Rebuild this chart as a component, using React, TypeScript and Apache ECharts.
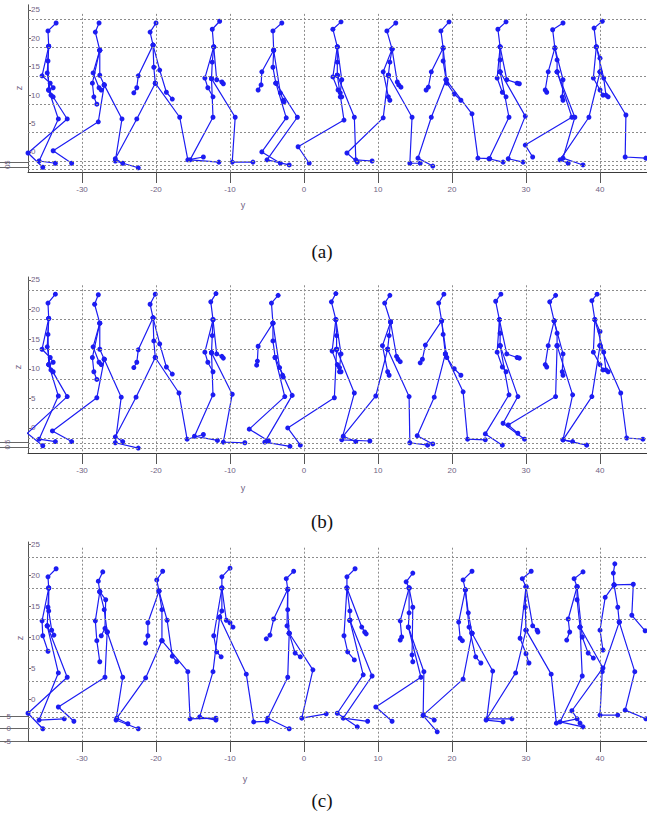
import React, { useEffect, useRef } from "react";
import * as echarts from "echarts";

// ---- axis ticks ----
const X_TICKS = [-30, -20, -10, 0, 10, 20, 30, 40];
const Z_TICKS = [0, 5, 10, 15, 20, 25];
const STUB_TICKS = [5, 0, -5];
const PANEL_LABELS = ["(a)", "(b)", "(c)"];

// extra "floor" grid lines of each panel (z values)
const FLOOR_A = [-0.7, -1.4];
const FLOOR_B = [-0.85, -1.7];
const FLOOR_C = [-0.8, -2.6];

// joint order:
// 0 head, 1 neck, 2 chest, 3 waist, 4 pelvis,
// 5 elbowA, 6 wristA, 7 handA, 8 elbowB, 9 wristB, 10 handB,
// 11 kneeA, 12 ankleA, 13 toeA, 14 kneeB, 15 ankleB, 16 toeB
const CHAINS = [
  [0, 1, 2, 3, 4],
  [2, 5, 6, 7],
  [2, 8, 9, 10],
  [4, 11, 12, 13],
  [4, 14, 15, 16],
];

// panel (a): [y, z] of each joint of each pose
const FIGS_A = [
  [[-33.5, 24.3], [-34.6, 22.9], [-34.5, 20.2], [-34.6, 17.6], [-34.5, 12.5], [-35.4, 15.0], [-34.3, 13.7], [-33.9, 12.9], [-34.7, 15.5], [-34.2, 11.6], [-33.9, 11.3], [-33.2, 7.4], [-35.8, 0], [-33.6, -0.4], [-32.0, 7.4], [-37.3, 1.4], [-35.3, -1.1]],
  [[-27.7, 24.3], [-28.2, 22.7], [-27.6, 19.5], [-27.6, 15.1], [-27.0, 13.4], [-28.6, 13.7], [-28.4, 11.3], [-28.0, 10.0], [-28.5, 15.5], [-27.7, 12.9], [-27.4, 12.5], [-27.8, 6.9], [-33.9, 1.8], [-31.4, -0.4], [-24.6, 7.4], [-25.5, 0], [-22.4, -1.2]],
  [[-20.0, 24.3], [-20.8, 22.7], [-20.4, 20.4], [-20.3, 16.5], [-20.1, 13.7], [-22.4, 15.0], [-22.6, 12.9], [-23.0, 12.0], [-19.5, 16.0], [-18.6, 12.1], [-17.8, 10.9], [-22.6, 7.4], [-25.5, 0.4], [-24.5, -0.4], [-16.8, 7.7], [-15.7, 0.2], [-13.6, 0.7]],
  [[-11.4, 24.6], [-12.4, 23.2], [-12.2, 20.1], [-12.4, 17.4], [-12.5, 14.5], [-13.4, 14.6], [-13.0, 12.9], [-12.3, 11.3], [-11.8, 14.3], [-11.1, 13.9], [-10.9, 13.6], [-12.3, 7.7], [-15.4, 0.2], [-11.5, -0.2], [-9.3, 7.7], [-9.7, -0.2], [-6.9, -0.2]],
  [[-3.0, 24.3], [-4.2, 22.9], [-4.1, 19.5], [-4.2, 16.5], [-3.8, 13.7], [-5.7, 15.7], [-5.8, 13.4], [-6.2, 12.5], [-3.2, 12.0], [-2.8, 10.7], [-2.7, 10.4], [-2.4, 7.6], [-5.7, 1.6], [-3.2, -0.4], [-0.9, 7.7], [-5.0, 0.2], [-2.0, -0.7]],
  [[5.0, 24.5], [3.9, 23.2], [4.5, 20.1], [4.5, 17.4], [4.5, 15.1], [3.9, 14.8], [4.6, 12.5], [4.9, 11.3], [5.1, 14.3], [4.9, 12.0], [5.1, 11.3], [5.4, 7.2], [-0.8, 2.5], [0.7, -0.4], [6.8, 7.7], [7.0, 0.2], [9.2, 0]],
  [[12.4, 24.3], [11.2, 22.9], [11.9, 19.7], [11.6, 17.4], [11.4, 15.1], [10.7, 15.7], [11.4, 11.3], [11.6, 10.7], [12.6, 13.9], [12.8, 13.4], [13.1, 13.0], [10.7, 7.6], [5.8, 1.4], [7.2, -0.2], [14.6, 7.7], [14.3, -0.4], [15.7, -0.4]],
  [[19.6, 24.5], [18.5, 22.9], [18.8, 19.9], [18.8, 17.6], [19.2, 14.3], [17.2, 15.7], [16.8, 13.0], [16.5, 12.5], [19.3, 13.7], [20.3, 11.8], [21.2, 10.7], [17.2, 7.7], [15.4, 0.5], [17.4, -0.9], [22.7, 8.3], [23.5, 0.5], [25.1, 0.4]],
  [[27.3, 24.5], [26.2, 23.2], [26.5, 20.1], [26.5, 17.8], [26.5, 15.7], [26.1, 14.6], [26.8, 12.1], [27.3, 11.3], [27.4, 14.3], [28.8, 13.7], [29.1, 13.6], [27.7, 7.7], [25.0, 0.4], [26.9, -0.2], [29.9, 7.9], [27.6, 0.4], [29.6, -0.2]],
  [[35.0, 24.3], [33.6, 23.1], [33.9, 19.9], [34.2, 17.8], [34.2, 15.7], [33.0, 15.7], [32.6, 12.5], [32.8, 12.1], [35.0, 14.3], [34.9, 11.3], [35.0, 10.7], [36.2, 7.7], [29.9, 2.8], [30.9, 0.7], [36.6, 7.7], [35.0, 0.5], [37.7, -0.7]],
  [[40.3, 24.6], [39.2, 23.4], [39.5, 20.1], [40.0, 18.1], [40.0, 15.7], [39.1, 14.6], [40.0, 12.5], [40.4, 11.6], [40.5, 14.6], [40.8, 11.6], [41.1, 11.3], [38.5, 7.7], [34.6, 0.2], [35.7, -0.4], [43.5, 8.1], [43.4, 0.7], [46.2, 0.5]],
];

// panel (b)
const FIGS_B = [
  [[-33.6, 24.3], [-34.6, 22.8], [-34.5, 20.2], [-34.6, 17.5], [-34.5, 12.4], [-35.4, 15.0], [-34.3, 13.6], [-33.9, 12.8], [-34.7, 15.4], [-34.2, 11.5], [-33.9, 11.2], [-33.2, 7.1], [-35.8, -0.2], [-33.6, -0.6], [-32.0, 7.0], [-37.4, 0.8], [-35.3, -1.3]],
  [[-27.8, 24.2], [-28.3, 22.6], [-27.6, 19.4], [-27.6, 15.0], [-27.0, 13.3], [-28.6, 13.6], [-28.4, 11.2], [-28.0, 9.9], [-28.5, 15.4], [-27.7, 12.8], [-27.4, 12.4], [-28.0, 6.8], [-34.0, 1.2], [-31.4, -0.6], [-24.7, 6.9], [-25.5, -0.8], [-22.4, -1.7]],
  [[-20.1, 24.3], [-20.8, 22.6], [-20.4, 20.3], [-20.3, 16.4], [-20.1, 13.6], [-22.4, 14.9], [-22.6, 12.8], [-23.0, 11.9], [-19.5, 15.9], [-18.6, 12.0], [-17.8, 10.8], [-22.7, 6.9], [-25.5, 0.2], [-24.5, -0.6], [-16.9, 7.6], [-15.8, -0.2], [-13.6, 0.6]],
  [[-11.9, 24.4], [-12.6, 23.0], [-12.3, 20.0], [-12.4, 17.3], [-12.5, 14.4], [-13.4, 14.5], [-13.0, 12.8], [-12.3, 11.2], [-11.8, 14.2], [-11.1, 13.8], [-10.9, 13.5], [-12.3, 7.3], [-14.8, 0.3], [-11.7, -0.4], [-9.7, 7.4], [-10.9, -0.7], [-8.0, -0.8]],
  [[-3.5, 24.1], [-4.4, 22.8], [-4.2, 19.4], [-4.2, 16.4], [-3.9, 13.6], [-6.2, 15.5], [-6.3, 13.0], [-6.4, 12.3], [-3.3, 11.9], [-2.9, 10.6], [-2.8, 10.3], [-2.6, 7.0], [-7.4, 1.5], [-4.8, -0.5], [-1.6, 7.2], [-5.3, -0.7], [-1.9, -1.4]],
  [[4.3, 24.4], [3.7, 23.0], [4.3, 20.0], [4.4, 17.3], [4.4, 15.0], [3.8, 14.7], [4.5, 12.4], [4.8, 11.2], [5.0, 14.2], [4.8, 11.9], [5.0, 11.2], [4.1, 6.8], [-2.2, 1.7], [-0.5, -1.2], [6.8, 7.6], [5.1, -0.3], [8.9, -0.5]],
  [[11.6, 24.1], [10.9, 22.8], [11.7, 19.6], [11.5, 17.3], [11.3, 15.0], [10.6, 15.6], [11.3, 11.2], [11.5, 10.6], [12.5, 13.8], [12.7, 13.3], [13.0, 12.9], [9.7, 7.1], [5.3, 0.3], [7.0, -0.6], [14.2, 7.0], [14.3, -0.8], [16.7, -1.2]],
  [[18.9, 24.3], [18.2, 22.8], [18.6, 19.8], [18.8, 17.5], [19.1, 14.2], [16.4, 15.7], [16.0, 13.3], [15.7, 12.7], [19.3, 13.6], [20.3, 11.7], [21.2, 10.6], [17.6, 6.9], [15.3, 0.4], [17.4, -1.0], [21.5, 7.8], [22.1, -0.2], [24.5, -0.3]],
  [[26.6, 24.3], [25.9, 23.1], [26.4, 20.0], [26.5, 17.7], [26.5, 15.6], [26.1, 14.5], [26.8, 12.0], [27.3, 11.2], [27.4, 14.2], [28.8, 13.6], [29.1, 13.5], [27.7, 7.3], [24.5, 0.7], [26.8, -1.2], [28.9, 7.0], [26.9, 2.5], [29.8, -0.2]],
  [[34.0, 24.1], [33.2, 23.0], [33.8, 19.8], [34.2, 17.7], [34.2, 15.6], [33.0, 15.6], [32.6, 12.4], [32.8, 12.0], [35.0, 14.2], [34.9, 11.2], [35.0, 10.6], [34.0, 7.0], [27.6, 2.2], [28.9, 0.8], [36.3, 7.3], [35.0, -0.3], [38.2, -1.2]],
  [[39.6, 24.3], [38.9, 23.2], [39.3, 20.0], [40.0, 18.0], [40.0, 15.6], [39.1, 14.5], [40.0, 12.4], [40.4, 11.5], [40.5, 14.5], [40.8, 11.5], [41.1, 11.2], [38.9, 7.0], [35.0, -0.3], [36.3, -0.6], [42.8, 7.6], [43.6, 0.0], [45.8, -0.2]],
];

// panel (c)
const FIGS_C = [
  [[-33.5, 23.1], [-34.6, 21.8], [-34.5, 20.0], [-34.6, 16.9], [-34.7, 13.9], [-35.4, 14.7], [-35.3, 12.3], [-34.6, 9.8], [-34.5, 16.3], [-34.1, 13.2], [-33.8, 12.4], [-33.2, 6.3], [-35.8, -1.3], [-32.4, -1.1], [-32.0, 5.6], [-37.3, -0.2], [-35.3, -2.7]],
  [[-27.2, 22.6], [-27.8, 21.1], [-27.6, 19.4], [-27.0, 16.5], [-26.6, 12.9], [-28.2, 14.7], [-28.0, 11.5], [-27.6, 8.1], [-26.8, 18.1], [-26.9, 13.5], [-27.4, 12.3], [-26.9, 5.6], [-33.2, 0.8], [-31.1, -1.5], [-24.5, 5.6], [-25.4, -1.3], [-22.4, -2.7]],
  [[-19.1, 22.7], [-19.9, 21.3], [-19.6, 19.5], [-19.2, 16.5], [-19.2, 11.5], [-21.1, 14.4], [-21.1, 12.3], [-21.4, 11.1], [-18.5, 14.8], [-17.8, 9.0], [-17.2, 8.1], [-21.4, 5.5], [-25.3, -1.0], [-23.8, -1.9], [-15.7, 6.5], [-15.4, -1.1], [-11.9, -1.0]],
  [[-10.0, 23.2], [-11.1, 21.8], [-11.1, 20.0], [-11.1, 16.3], [-11.4, 15.3], [-12.2, 12.3], [-11.8, 9.7], [-11.2, 8.9], [-10.5, 14.8], [-10.0, 14.4], [-9.6, 13.7], [-12.3, 6.5], [-14.1, -0.8], [-11.9, -1.3], [-7.8, 6.1], [-6.8, -1.6], [-5.0, -1.5]],
  [[-1.4, 22.7], [-2.4, 21.5], [-2.2, 19.8], [-2.2, 16.5], [-2.0, 12.7], [-4.1, 15.0], [-4.6, 12.4], [-5.1, 11.8], [-2.3, 13.9], [-1.2, 9.5], [-0.5, 8.9], [-2.2, 5.6], [-4.9, -1.0], [-2.0, -2.7], [1.2, 6.8], [-0.3, -1.0], [3.0, -0.3]],
  [[6.9, 23.1], [5.8, 21.8], [5.8, 20.0], [6.2, 16.3], [6.2, 14.8], [5.4, 12.3], [5.9, 9.7], [6.8, 8.4], [7.8, 13.7], [8.2, 12.9], [8.4, 12.6], [8.0, 6.0], [4.5, -0.2], [7.2, -2.4], [9.2, 5.8], [5.3, -1.0], [8.6, -1.5]],
  [[14.7, 22.4], [13.8, 21.0], [14.2, 20.0], [14.2, 16.0], [14.1, 13.7], [13.0, 14.7], [13.2, 12.1], [13.0, 11.6], [14.7, 16.9], [14.6, 9.2], [14.7, 8.1], [15.8, 5.6], [9.7, 0.8], [11.9, -1.5], [16.2, 6.5], [16.1, -0.6], [18.0, -3.2]],
  [[22.7, 22.7], [21.5, 21.3], [21.8, 19.7], [22.2, 16.0], [22.7, 12.7], [20.9, 14.5], [21.1, 11.9], [21.4, 11.5], [22.3, 13.7], [23.2, 8.9], [23.9, 7.9], [21.5, 5.3], [16.1, -0.5], [17.6, -1.3], [25.5, 6.6], [24.7, -1.1], [28.1, -1.1]],
  [[30.7, 22.7], [29.5, 21.5], [30.0, 20.2], [29.9, 16.9], [30.0, 13.2], [29.2, 11.9], [30.0, 9.4], [30.4, 7.9], [30.9, 13.9], [31.5, 13.2], [31.6, 12.9], [28.6, 6.3], [24.6, -1.3], [26.9, -1.6], [33.4, 6.1], [34.1, -1.8], [36.9, -1.1]],
  [[37.7, 22.6], [36.5, 21.5], [36.9, 20.2], [36.9, 18.1], [37.3, 13.7], [35.7, 15.0], [35.9, 12.9], [35.5, 11.6], [37.6, 12.1], [38.4, 9.5], [39.1, 8.7], [37.6, 5.8], [34.6, -1.6], [37.7, -2.4], [40.4, 7.1], [36.2, 0.2], [37.3, -1.8]],
  [[42.0, 23.9], [41.8, 22.4], [41.9, 20.5], [42.4, 16.9], [42.6, 14.5], [40.7, 18.5], [40.0, 13.2], [40.4, 10.0], [44.5, 20.6], [44.3, 15.6], [46.1, 13.1], [40.3, 6.5], [40.0, -0.5], [42.4, -0.5], [44.7, 6.5], [43.4, 0.3], [46.2, -1.1]],
];

const X_MIN = -37.3;
const X_MAX = 46.35;
const BLUE = "#1c1cf2";
const LABEL = "#6f6383";
const GRIDLINE = "#8c8c8c";

const PANELS = [
  { figs: FIGS_A, floor: FLOOR_A, top: 4.8, height: 167.2, zMin: -1.94, zMax: 27.5, shift: 1.6, stubMin: -6, stubMax: 190.7, stubRotate: 90, vTop: 25.9 },
  { figs: FIGS_B, floor: FLOOR_B, top: 277, height: 176, zMin: -2.53, zMax: 27.2, shift: 1.7, stubMin: -5.2, stubMax: 154.8, stubRotate: 90, vTop: 25.8 },
  { figs: FIGS_C, floor: FLOOR_C, top: 542, height: 199, zMin: -4.68, zMax: 27.42, shift: 2.0, stubMin: -5, stubMax: 74.6, stubRotate: 0, vTop: 26.5 },
];

const TEXT_POS = [
  { z: [19, 88], y: [243, 205], p: [322, 251] },
  { z: [18, 367], y: [243, 488], p: [322, 521] },
  { z: [20, 638], y: [245, 779], p: [322, 800] },
];

function buildOption() {
  const grid: any[] = [];
  const xAxis: any[] = [];
  const yAxis: any[] = [];
  const series: any[] = [];
  const graphic: any[] = [];

  PANELS.forEach((P, p) => {
    grid.push({ left: 28, right: 0, top: P.top, height: P.height, containLabel: false });
    xAxis.push({
      gridIndex: p,
      type: "value",
      min: X_MIN,
      max: X_MAX,
      axisLine: { show: true, onZero: false, lineStyle: { color: "#3a3a3a", width: 1 } },
      axisTick: { show: true, customValues: X_TICKS, length: 11, lineStyle: { color: "#555" } },
      axisLabel: { customValues: X_TICKS, margin: 13, fontSize: 8, color: LABEL, fontFamily: "Liberation Sans" },
      splitLine: { show: false },
    });
    yAxis.push({
      gridIndex: p,
      type: "value",
      position: "left",
      min: P.zMin,
      max: P.zMax,
      axisLine: { show: true, onZero: false, lineStyle: { color: "#555", width: 1 } },
      axisTick: { show: false },
      axisLabel: { show: false },
      splitLine: { show: false },
    });
    yAxis.push({
      gridIndex: p,
      type: "value",
      position: "left",
      min: P.zMin - P.shift,
      max: P.zMax - P.shift,
      axisLine: { show: false, onZero: false },
      axisTick: { show: true, inside: true, length: 3, customValues: Z_TICKS, lineStyle: { color: "#666" } },
      axisLabel: { inside: true, customValues: Z_TICKS, margin: 3, fontSize: 8, color: LABEL, fontFamily: "Liberation Sans" },
      splitLine: { show: false },
    });
    yAxis.push({
      gridIndex: p,
      type: "value",
      position: "left",
      min: P.stubMin,
      max: P.stubMax,
      axisLine: { show: false, onZero: false },
      axisTick: { show: true, length: 28, customValues: STUB_TICKS, lineStyle: { color: "#666" } },
      axisLabel: { customValues: STUB_TICKS, margin: 17, rotate: P.stubRotate, fontSize: 8, color: LABEL, fontFamily: "Liberation Sans" },
      splitLine: { show: false },
    });

    const yi = p * 3;
    const hLines = [...Z_TICKS, ...P.floor].map((v) => ({ yAxis: v }));
    const vLines = X_TICKS.map((x) => [{ coord: [x, P.vTop] }, { coord: [x, P.zMin] }]);
    series.push({
      type: "line",
      xAxisIndex: p,
      yAxisIndex: yi,
      data: [],
      silent: true,
      markLine: {
        silent: true,
        symbol: "none",
        label: { show: false },
        lineStyle: { color: GRIDLINE, width: 1, type: [2, 2] },
        data: [...hLines, ...vLines],
      },
      z: 1,
    });

    P.figs.forEach((fig) => {
      CHAINS.forEach((chain) => {
        series.push({
          type: "line",
          xAxisIndex: p,
          yAxisIndex: yi,
          data: chain.map((j) => fig[j]),
          symbol: "circle",
          symbolSize: 5,
          showSymbol: true,
          silent: true,
          lineStyle: { color: BLUE, width: 1.2 },
          itemStyle: { color: BLUE },
          z: 3,
        });
      });
    });

    const T = TEXT_POS[p];
    graphic.push({
      type: "text",
      x: T.z[0],
      y: T.z[1],
      rotation: Math.PI / 2,
      style: { text: "z", fontSize: 9, fill: LABEL, fontFamily: "Liberation Sans", align: "center", verticalAlign: "middle" },
    });
    graphic.push({
      type: "text",
      x: T.y[0],
      y: T.y[1],
      style: { text: "y", fontSize: 9, fill: LABEL, fontFamily: "Liberation Sans", align: "center", verticalAlign: "middle" },
    });
    graphic.push({
      type: "text",
      x: T.p[0],
      y: T.p[1],
      style: { text: PANEL_LABELS[p], fontSize: 19, fill: "#111", fontFamily: "Liberation Serif", align: "center", verticalAlign: "middle" },
    });
  });

  return {
    animation: false,
    backgroundColor: "#ffffff",
    grid,
    xAxis,
    yAxis,
    series,
    graphic,
  };
}

export default function App() {
  const ref = useRef<HTMLDivElement>(null);
  useEffect(() => {
    if (!ref.current) return;
    const chart = echarts.init(ref.current, undefined, { renderer: "svg" });
    chart.setOption(buildOption());
    return () => chart.dispose();
  }, []);
  return (
    <div
      ref={ref}
      style={{ position: "fixed", left: 0, top: 0, width: 647, height: 816, background: "#fff" }}
    />
  );
}
